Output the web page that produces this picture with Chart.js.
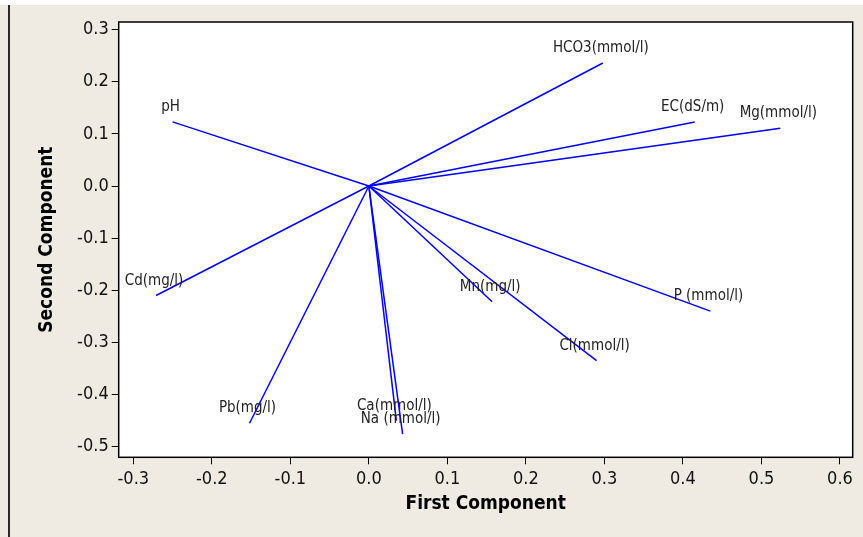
<!DOCTYPE html>
<html>
<head>
<meta charset="utf-8">
<title>Loading Plot</title>
<script src="https://cdn.jsdelivr.net/npm/chart.js@4.4.1/dist/chart.umd.min.js"></script>
<style>
    body { margin: 0; background: #ffffff; }
    #grafico { display: block; }
</style>
</head>
<body>
<canvas id="grafico" width="863" height="537"></canvas>
<script>
// variaveis e cargas das duas primeiras componentes
const variaveis = ['pH', 'HCO3(mmol/l)', 'EC(dS/m)', 'Mg(mmol/l)', 'Cd(mg/l)', 'Pb(mg/l)',
    'Ca(mmol/l)', 'Na (mmol/l)', 'Mn(mg/l)', 'Cl(mmol/l)', 'P (mmol/l)'];
const primeira = [-0.250, 0.298, 0.415, 0.524, -0.271, -0.152, 0.035, 0.043, 0.157, 0.290, 0.435];
const segunda = [0.123, 0.236, 0.123, 0.111, -0.210, -0.455, -0.450, -0.476, -0.222, -0.335, -0.240];

const ticksX = [-0.3, -0.2, -0.1, 0.0, 0.1, 0.2, 0.3, 0.4, 0.5, 0.6];
const ticksY = [-0.5, -0.4, -0.3, -0.2, -0.1, 0.0, 0.1, 0.2, 0.3];

const fonte = '"DejaVu Sans Condensed", "Liberation Sans", sans-serif';
const bege = '#efebe2';

const datasets = variaveis.map(function (nome, i) {
    return {
        label: nome,
        data: [{ x: 0, y: 0 }, { x: primeira[i], y: segunda[i] }],
        showLine: true,
        borderColor: '#0000ff',
        borderWidth: 1.5,
        pointRadius: 0,
        fill: false
    };
});

// fundo bege, linha da esquerda e area branca
const fundo = {
    id: 'fundo',
    beforeDraw(chart) {
        const ctx = chart.ctx;
        const a = chart.chartArea;
        ctx.save();
        ctx.fillStyle = '#ffffff';
        ctx.fillRect(0, 0, chart.width, chart.height);
        ctx.fillStyle = bege;
        ctx.fillRect(0, 5, chart.width, chart.height - 5);
        ctx.fillStyle = '#2a2a2a';
        ctx.fillRect(8, 5, 2, chart.height - 5);
        ctx.fillStyle = '#ffffff';
        ctx.fillRect(a.left, a.top, a.right - a.left, a.bottom - a.top);
        ctx.restore();
    },
    afterDraw(chart) {
        const ctx = chart.ctx;
        const a = chart.chartArea;
        ctx.save();
        ctx.strokeStyle = '#000000';
        ctx.lineWidth = 1.5;
        ctx.strokeRect(a.left, a.top, a.right - a.left, a.bottom - a.top);
        ctx.restore();
    }
};

// nomes das variaveis na ponta de cada vetor
const rotulos = {
    id: 'rotulos',
    afterDatasetsDraw(chart) {
        const ctx = chart.ctx;
        const sx = chart.scales.x;
        const sy = chart.scales.y;
        ctx.save();
        ctx.font = '15px ' + fonte;
        ctx.fillStyle = '#222222';
        ctx.textAlign = 'center';
        ctx.textBaseline = 'alphabetic';
        for (let i = 0; i < variaveis.length; i++) {
            const px = sx.getPixelForValue(primeira[i]);
            const py = sy.getPixelForValue(segunda[i]);
            ctx.fillText(variaveis[i], px - 2, py - 11);
        }
        ctx.restore();
    }
};

const config = {
    type: 'scatter',
    data: { datasets: datasets },
    options: {
        responsive: false,
        animation: false,
        layout: { padding: { top: 22, right: 10.3, left: 0, bottom: 0 } },
        plugins: {
            legend: { display: false },
            tooltip: { enabled: false }
        },
        scales: {
            x: {
                type: 'linear',
                min: -0.3186,
                max: 0.6162,
                afterFit: function (s) { s.height = 79.7; },
                afterBuildTicks: function (s) { s.ticks = ticksX.map(v => ({ value: v })); },
                border: { display: false },
                grid: { drawOnChartArea: false, drawTicks: true, tickLength: 7, color: '#000000', lineWidth: 1 },
                ticks: {
                    color: '#111111',
                    padding: 4,
                    font: { family: fonte, size: 18 },
                    callback: v => v.toFixed(1)
                },
                title: {
                    display: true,
                    text: 'First Component',
                    color: '#000000',
                    font: { family: fonte, size: 19, weight: 'bold' },
                    padding: { top: 0, bottom: 21.6 }
                }
            },
            y: {
                type: 'linear',
                min: -0.5203,
                max: 0.3146,
                afterFit: function (s) { s.width = 118.7; },
                afterBuildTicks: function (s) { s.ticks = ticksY.map(v => ({ value: v })); },
                border: { display: false },
                grid: { drawOnChartArea: false, drawTicks: true, tickLength: 7, color: '#000000', lineWidth: 1 },
                ticks: {
                    color: '#111111',
                    padding: 3,
                    font: { family: fonte, size: 18 },
                    callback: v => v.toFixed(1)
                },
                title: {
                    display: true,
                    text: 'Second Component',
                    color: '#000000',
                    font: { family: fonte, size: 19, weight: 'bold' },
                    padding: { top: 35.6, bottom: 0 }
                }
            }
        }
    },
    plugins: [fundo, rotulos]
};

new Chart(document.getElementById('grafico'), config);
</script>
</body>
</html>
